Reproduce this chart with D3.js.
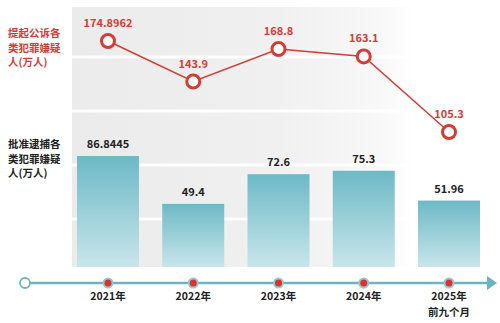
<!DOCTYPE html>
<html><head><meta charset="utf-8">
<script src="https://cdn.jsdelivr.net/npm/d3@7"></script>
<style>body{margin:0;background:#fff}svg{display:block}text{font-family:"Noto Sans CJK SC","Noto Sans",sans-serif;font-weight:700}</style>
</head><body><svg id="c" width="500" height="323"></svg>
<script>
const years = ["2021年","2022年","2023年","2024年","2025年"];
const yearSub = ["","","","","前九个月"];
const prosecuted = [174.8962,143.9,168.8,163.1,105.3];
const prosecutedLabels = ["174.8962","143.9","168.8","163.1","105.3"];
const arrested = [86.8445,49.4,72.6,75.3,51.96];
const arrestedLabels = ["86.8445","49.4","72.6","75.3","51.96"];
const lineTitle = ["提起公诉各","类犯罪嫌疑","人(万人)"];
const barTitle = ["批准逮捕各","类犯罪嫌疑","人(万人)"];

const svg = d3.select("#c");
const defs = svg.append("defs");
const bg = defs.append("linearGradient").attr("id","bg").attr("x1","0").attr("x2","1").attr("y1","0").attr("y2","0");
bg.append("stop").attr("offset","0").attr("stop-color","#ebebeb");
bg.append("stop").attr("offset","0.6").attr("stop-color","#f0f0f0");
bg.append("stop").attr("offset","0.9").attr("stop-color","#f8f8f8");
bg.append("stop").attr("offset","1").attr("stop-color","#ffffff");
const bar = defs.append("linearGradient").attr("id","bar").attr("x1","0").attr("x2","0").attr("y1","0").attr("y2","1");
bar.append("stop").attr("offset","0").attr("stop-color","#6db9c6");
bar.append("stop").attr("offset","1").attr("stop-color","#c8e6ea");

// background panel
svg.append("rect").attr("x",72).attr("y",7).attr("width",341).attr("height",260).attr("fill","url(#bg)");
[57,111,165,219].forEach(y=>{
  svg.append("rect").attr("x",72).attr("y",y-1.5).attr("width",341).attr("height",3).attr("fill","#ffffff").attr("opacity",0.9);
});

const x = d3.scalePoint().domain(years).range([108,449]);
const bw = 62;
const yb = d3.scaleLinear().domain([0,86.8445]).range([267,156]);
const yl = d3.scaleLinear().domain([105.3,174.8962]).range([132,41]);

// bars
svg.selectAll(".bar").data(arrested).enter().append("rect")
  .attr("x",(d,i)=>x(years[i])-bw/2).attr("y",d=>yb(d))
  .attr("width",bw).attr("height",d=>yb(0)-yb(d)).attr("fill","url(#bar)");
svg.selectAll(".bl").data(arrested).enter().append("text")
  .attr("x",(d,i)=>x(years[i])).attr("y",d=>yb(d)-8)
  .attr("text-anchor","middle").attr("font-size",11).attr("fill","#222")
  .text((d,i)=>arrestedLabels[i]);

// line
const red = "#d63c33";
svg.append("path").datum(prosecuted)
  .attr("d",d3.line().x((d,i)=>x(years[i])).y(d=>yl(d)))
  .attr("fill","none").attr("stroke",red).attr("stroke-width",1.5);
svg.selectAll(".pt").data(prosecuted).enter().append("circle")
  .attr("cx",(d,i)=>x(years[i])).attr("cy",d=>yl(d)).attr("r",6.5)
  .attr("fill","#fff").attr("stroke",red).attr("stroke-width",3);
svg.selectAll(".pl").data(prosecuted).enter().append("text")
  .attr("x",(d,i)=>x(years[i])).attr("y",d=>yl(d)-14)
  .attr("text-anchor","middle").attr("font-size",11).attr("fill",red)
  .text((d,i)=>prosecutedLabels[i]);

// titles
lineTitle.forEach((t,i)=>svg.append("text").attr("x",8).attr("y",37+i*14.5).attr("font-size",10.5).attr("fill",red).text(t));
barTitle.forEach((t,i)=>svg.append("text").attr("x",8).attr("y",148+i*14.5).attr("font-size",10.5).attr("fill","#222").text(t));

// timeline
const teal = "#6ab5c3";
svg.append("line").attr("x1",30).attr("x2",488).attr("y1",283).attr("y2",283).attr("stroke",teal).attr("stroke-width",2.5);
svg.append("path").attr("d","M487,276 L497,283 L487,290 Z").attr("fill",teal);
svg.append("circle").attr("cx",25).attr("cy",283).attr("r",5).attr("fill","#fff").attr("stroke",teal).attr("stroke-width",1.8);
years.forEach((yv,i)=>{
  svg.append("circle").attr("cx",x(yv)).attr("cy",283).attr("r",5.5).attr("fill","#8ecbd5");
  svg.append("circle").attr("cx",x(yv)).attr("cy",283).attr("r",3.5).attr("fill","#d9332b");
  svg.append("text").attr("x",x(yv)).attr("y",300).attr("text-anchor","middle").attr("font-size",10.5).attr("fill","#222").text(yv);
  if(yearSub[i]) svg.append("text").attr("x",x(yv)).attr("y",315.5).attr("text-anchor","middle").attr("font-size",10.5).attr("fill","#222").text(yearSub[i]);
});
</script></body></html>
